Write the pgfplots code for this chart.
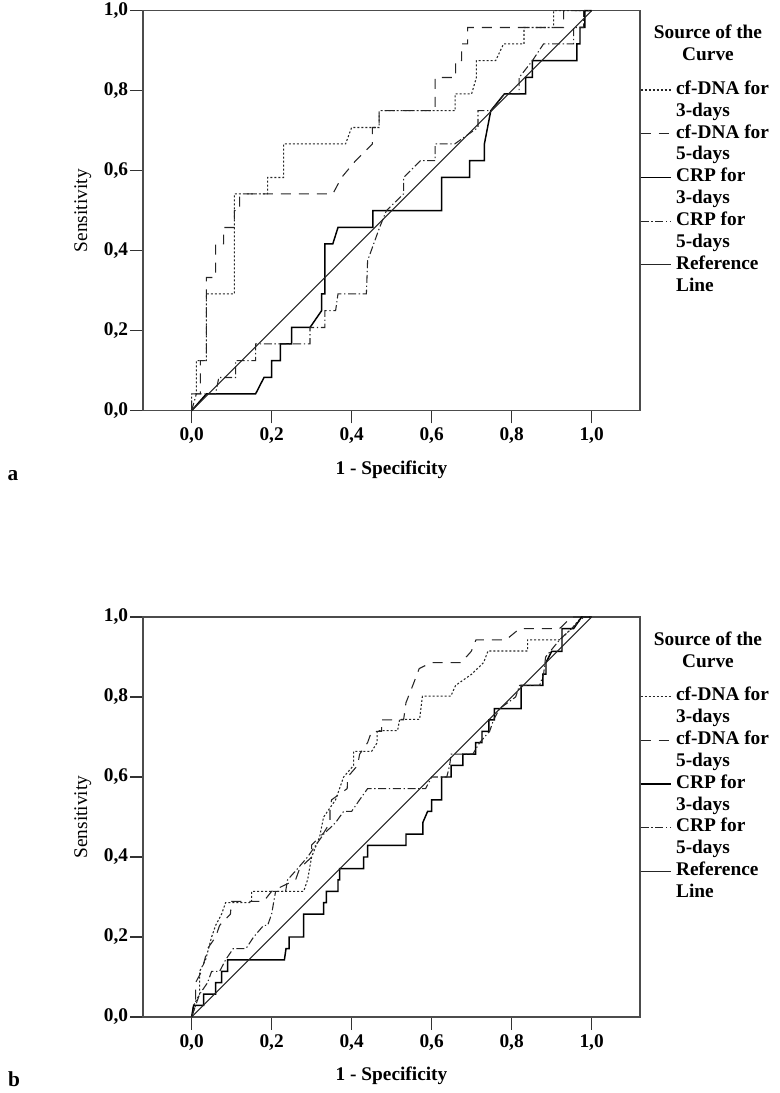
\documentclass[border=0pt]{standalone}
\usepackage{fontspec}
\setmainfont{Liberation Serif}
\usepackage{pgfplots}
\pgfplotsset{compat=1.18}
\newcommand\lbl{\fontsize{14.5}{16.4}\selectfont\bfseries}
\newcommand\lblr{\fontsize{14.5}{16.4}\selectfont}
\newcommand\ent[2]{\begin{tabular}[t]{@{}l@{}}#1\\#2\end{tabular}}
\pgfplotsset{
  legend image code/.code={\draw[#1] (0pt,3.3pt) -- (22.5pt,3.3pt); \path (26pt,0pt);},
  rocaxis/.style={
    scale only axis, width=372.75pt, height=300pt,
    xmin=-0.1215, xmax=1.121, ymin=0, ymax=1,
    xtick={0,0.2,0.4,0.6,0.8,1}, ytick={0,0.2,0.4,0.6,0.8,1},
    tick align=outside, xtick pos=bottom, ytick pos=left, major tick length=9.5pt,
    axis line style={black!70, line width=0.8pt},
    tick style={black!80, line width=0.8pt},
    /pgf/number format/use comma, /pgf/number format/fixed,
    /pgf/number format/fixed zerofill, /pgf/number format/precision=1,
    /pgf/number format/assume math mode=true,
    ticklabel style={font=\lbl},
    yticklabel style={inner sep=1.5pt},
    xlabel={1 - Specificity}, ylabel={Sensitivity},
    xlabel style={at={(axis description cs:0.5,-0.148)}, anchor=center, font=\lbl},
    ylabel style={at={(axis description cs:-0.1213,0.5)}, anchor=center, font=\lblr},
    legend style={at={(1,0.829)}, anchor=north west, draw=none, fill=none,
      inner sep=0pt, outer sep=0pt, row sep=0pt, font=\lbl,
      cells={anchor=base west}, nodes={inner sep=0pt, outer sep=0pt, text depth=}},
    clip=false,
  },
  s1/.style={black!85, line width=0.8pt, dash pattern=on 1.5pt off 1.5pt},
  s2/.style={black!85, line width=0.8pt, dash pattern=on 7.5pt off 6pt},
  s3/.style={black, line width=1.1pt},
  s4/.style={black!85, line width=0.8pt, dash pattern=on 6pt off 2pt on 1pt off 2pt},
  s5/.style={black!85, line width=0.8pt},
}
\begin{document}
\begin{tikzpicture}
\useasboundingbox (0,0) rectangle (584.25pt,-819.75pt);
% ---------------- panel a ----------------
\begin{axis}[rocaxis, name=pa, at={(107.25pt,-308pt)}, anchor=south west]
\addplot[s1] coordinates {(0,0) (0,0.042) (0.012,0.042) (0.012,0.125) (0.037,0.125) (0.037,0.292) (0.107,0.292) (0.107,0.542) (0.19,0.542) (0.19,0.583) (0.23,0.583) (0.23,0.667) (0.385,0.667) (0.40,0.708) (0.469,0.708) (0.469,0.75) (0.659,0.75) (0.659,0.792) (0.70,0.792) (0.712,0.833) (0.712,0.875) (0.76,0.875) (0.78,0.917) (0.831,0.917) (0.831,0.958) (0.905,0.958) (0.905,1) (1,1)};
\addlegendentry{\ent{cf-DNA for}{3-days}}
\addplot[s2] coordinates {(0,0) (0,0.042) (0.022,0.042) (0.022,0.125) (0.037,0.125) (0.037,0.333) (0.06,0.333) (0.06,0.417) (0.08,0.417) (0.08,0.458) (0.107,0.458) (0.107,0.5) (0.12,0.5) (0.12,0.542) (0.353,0.542) (0.375,0.583) (0.41,0.625) (0.452,0.667) (0.452,0.708) (0.469,0.708) (0.469,0.75) (0.609,0.75) (0.609,0.833) (0.66,0.833) (0.66,0.875) (0.675,0.875) (0.675,0.917) (0.69,0.917) (0.69,0.958) (0.93,0.958) (0.93,1) (1,1)};
\addlegendentry{\ent{cf-DNA for}{5-days}}
\addplot[s3] coordinates {(0,0) (0.037,0.042) (0.16,0.042) (0.181,0.083) (0.2,0.083) (0.2,0.125) (0.222,0.125) (0.222,0.167) (0.25,0.167) (0.25,0.208) (0.296,0.208) (0.325,0.25) (0.325,0.292) (0.333,0.292) (0.333,0.417) (0.353,0.417) (0.366,0.458) (0.453,0.458) (0.453,0.5) (0.625,0.5) (0.625,0.583) (0.695,0.583) (0.695,0.625) (0.732,0.625) (0.732,0.667) (0.748,0.75) (0.782,0.792) (0.835,0.792) (0.835,0.833) (0.852,0.833) (0.852,0.875) (0.963,0.875) (0.963,0.917) (0.971,0.917) (0.971,0.958) (0.983,0.958) (0.983,1) (1,1)};
\addlegendentry{\ent{CRP for}{3-days}}
\addplot[s4] coordinates {(0,0) (0.012,0.042) (0.06,0.042) (0.068,0.083) (0.11,0.083) (0.11,0.125) (0.16,0.125) (0.16,0.167) (0.296,0.167) (0.296,0.208) (0.333,0.208) (0.333,0.25) (0.36,0.25) (0.366,0.292) (0.437,0.292) (0.44,0.375) (0.47,0.458) (0.487,0.5) (0.53,0.542) (0.53,0.583) (0.572,0.625) (0.609,0.625) (0.609,0.667) (0.658,0.667) (0.716,0.708) (0.716,0.75) (0.749,0.75) (0.782,0.792) (0.819,0.792) (0.819,0.833) (0.852,0.875) (0.88,0.917) (0.955,0.917) (0.955,0.958) (0.98,0.958) (0.98,1) (1,1)};
\addlegendentry{\ent{CRP for}{5-days}}
\addplot[s5] coordinates {(0,0) (1,1)};
\addlegendentry{\ent{Reference}{Line}}
\end{axis}
\node[font=\lbl, align=center, anchor=north, inner sep=0pt] at ([xshift=51pt,yshift=-10.7pt]pa.north east) {Source of the\\Curve};
\node[font=\fontsize{16}{18}\selectfont\bfseries] at (9.75pt,-357pt) {a};
% ---------------- panel b ----------------
\begin{axis}[rocaxis, name=pb, at={(107.25pt,-762.75pt)}, anchor=south west]
\addplot[s1] coordinates {(0,0) (0.005,0.029) (0.02,0.057) (0.02,0.114) (0.035,0.143) (0.05,0.2) (0.06,0.229) (0.075,0.257) (0.085,0.286) (0.15,0.286) (0.15,0.314) (0.28,0.314) (0.29,0.343) (0.30,0.4) (0.32,0.45) (0.33,0.5) (0.36,0.543) (0.38,0.6) (0.405,0.629) (0.405,0.664) (0.45,0.664) (0.464,0.686) (0.464,0.716) (0.515,0.716) (0.52,0.744) (0.57,0.744) (0.577,0.802) (0.648,0.802) (0.66,0.829) (0.70,0.857) (0.73,0.886) (0.741,0.915) (0.84,0.915) (0.84,0.943) (0.92,0.943) (0.95,0.971) (0.975,1) (1,1)};
\addlegendentry{\ent{cf-DNA for}{3-days}}
\addplot[s2] coordinates {(0,0) (0.01,0.029) (0.01,0.086) (0.025,0.114) (0.04,0.171) (0.06,0.2) (0.07,0.229) (0.097,0.257) (0.1,0.289) (0.18,0.289) (0.2,0.314) (0.26,0.343) (0.27,0.371) (0.3,0.4) (0.3,0.43) (0.33,0.46) (0.346,0.486) (0.346,0.52) (0.35,0.543) (0.389,0.571) (0.39,0.6) (0.415,0.629) (0.42,0.657) (0.44,0.686) (0.45,0.714) (0.475,0.714) (0.475,0.743) (0.53,0.743) (0.536,0.786) (0.553,0.829) (0.569,0.871) (0.599,0.886) (0.674,0.886) (0.699,0.914) (0.711,0.943) (0.786,0.943) (0.82,0.971) (0.92,0.971) (0.95,1) (1,1)};
\addlegendentry{\ent{cf-DNA for}{5-days}}
\addplot[s3] coordinates {(0,0) (0.005,0.029) (0.03,0.029) (0.03,0.057) (0.06,0.057) (0.06,0.086) (0.075,0.086) (0.075,0.114) (0.09,0.114) (0.09,0.143) (0.232,0.143) (0.236,0.171) (0.244,0.171) (0.244,0.2) (0.28,0.2) (0.28,0.257) (0.33,0.257) (0.33,0.286) (0.337,0.286) (0.337,0.314) (0.366,0.314) (0.366,0.343) (0.37,0.343) (0.37,0.371) (0.43,0.371) (0.43,0.4) (0.44,0.4) (0.44,0.429) (0.536,0.429) (0.536,0.457) (0.578,0.457) (0.578,0.486) (0.59,0.514) (0.6,0.514) (0.6,0.543) (0.625,0.543) (0.625,0.6) (0.649,0.6) (0.649,0.629) (0.678,0.629) (0.678,0.657) (0.71,0.657) (0.71,0.686) (0.726,0.686) (0.726,0.714) (0.743,0.714) (0.743,0.743) (0.757,0.743) (0.757,0.771) (0.824,0.771) (0.824,0.829) (0.878,0.829) (0.878,0.857) (0.886,0.857) (0.886,0.886) (0.9,0.914) (0.926,0.914) (0.926,0.971) (0.955,0.971) (0.975,1) (1,1)};
\addlegendentry{\ent{CRP for}{3-days}}
\addplot[s4] coordinates {(0,0) (0.01,0.029) (0.02,0.057) (0.04,0.086) (0.05,0.114) (0.07,0.114) (0.085,0.143) (0.104,0.171) (0.136,0.171) (0.155,0.2) (0.18,0.229) (0.19,0.229) (0.2,0.257) (0.205,0.286) (0.21,0.314) (0.235,0.314) (0.24,0.343) (0.265,0.371) (0.29,0.4) (0.31,0.429) (0.33,0.457) (0.36,0.486) (0.38,0.514) (0.4,0.514) (0.42,0.543) (0.44,0.571) (0.585,0.571) (0.6,0.6) (0.638,0.6) (0.645,0.629) (0.649,0.657) (0.703,0.657) (0.72,0.686) (0.745,0.714) (0.755,0.743) (0.77,0.771) (0.81,0.8) (0.82,0.829) (0.87,0.829) (0.88,0.857) (0.885,0.9) (0.92,0.943) (0.95,0.971) (0.98,1) (1,1)};
\addlegendentry{\ent{CRP for}{5-days}}
\addplot[s5] coordinates {(0,0) (1,1)};
\addlegendentry{\ent{Reference}{Line}}
\end{axis}
\node[font=\lbl, align=center, anchor=north, inner sep=0pt] at ([xshift=51pt,yshift=-10.7pt]pb.north east) {Source of the\\Curve};
\node[font=\fontsize{16}{18}\selectfont\bfseries] at (10.5pt,-809.25pt) {b};
\end{tikzpicture}
\end{document}
